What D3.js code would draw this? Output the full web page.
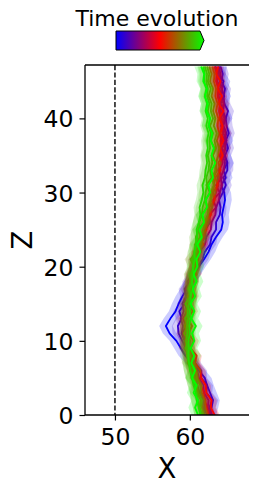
<!DOCTYPE html>
<html>
<head>
<meta charset="utf-8">
<script src="https://cdn.jsdelivr.net/npm/d3@7"></script>
<style>
  body { margin: 0; background: #fff; }
  text { font-family: "DejaVu Sans", sans-serif; fill: #000; }
</style>
</head>
<body>
<script>
// depth levels (Z) shared by every time step
var zValues = [0,1,2,3,4,5,6,7,8,9,10,11,12,13,14,15,16,17,18,19,20,21,22,23,
               24,25,26,27,28,29,30,31,32,33,34,35,36,37,38,39,40,41,42,43,44,45,46,47];

// mean X position per time step (earliest first)
var step0  = [62.6,62.9,63.1,62.7,62.3,62.0,61.2,60.3,59.4,58.8,58.2,57.3,56.8,57.4,58.1,58.5,59.0,59.6,60.1,60.6,61.2,61.9,62.5,62.9,
              63.5,64.2,64.4,64.3,64.5,64.7,64.6,64.2,64.8,64.5,65.0,64.6,64.3,64.9,64.5,64.2,64.8,64.4,64.1,64.6,64.2,64.5,63.9,64.0];
var step1  = [63.0,62.6,63.0,62.2,62.3,61.5,61.5,60.7,60.2,59.5,59.0,58.5,58.4,58.9,58.6,59.3,59.5,59.3,60.0,60.7,61.0,61.7,62.0,62.7,
              62.9,63.5,63.5,64.0,64.1,63.9,64.4,64.8,64.5,65.0,65.0,64.7,65.1,64.8,65.2,64.9,64.8,65.1,64.6,64.5,64.7,64.2,64.4,64.1];
var step2  = [62.8,62.4,62.5,61.9,61.8,61.2,61.0,60.5,60.0,59.4,59.3,58.9,59.1,58.8,59.2,59.0,59.5,59.8,59.7,60.3,60.6,61.0,61.3,62.0,
              62.2,62.8,62.9,63.4,63.5,63.9,64.0,64.3,64.1,64.5,64.7,64.4,64.8,64.6,64.9,64.5,64.7,64.4,64.6,64.2,64.3,64.0,64.1,63.8];
var step3  = [62.3,61.9,62.1,61.5,61.5,60.8,60.9,60.1,60.0,59.3,59.5,59.0,59.5,59.1,59.6,59.4,60.0,59.5,60.3,60.2,60.7,60.6,61.5,61.3,
              62.1,62.1,62.7,62.6,63.5,63.1,64.0,63.5,64.3,63.9,64.4,64.2,64.7,64.3,64.8,64.2,64.6,64.1,64.5,63.8,64.3,63.6,64.0,63.4];
var step4  = [62.0,61.7,61.8,61.3,61.0,60.8,60.3,60.1,59.7,59.5,59.6,59.3,59.5,59.3,59.6,59.9,59.7,60.1,60.0,60.4,60.7,60.8,61.2,61.4,
              61.9,62.0,62.5,62.6,63.0,63.2,63.5,63.8,63.7,64.0,64.2,64.0,64.3,64.1,64.4,64.2,64.3,64.0,64.1,63.8,63.9,63.6,63.7,63.4];
var step5  = [62.5,62.3,62.0,61.9,61.5,61.1,60.9,60.5,60.3,59.9,60.0,59.7,59.9,59.6,59.8,60.0,60.2,60.0,60.4,60.3,60.8,61.1,61.0,61.6,
              61.8,62.2,62.3,62.8,62.9,63.3,63.4,63.7,63.9,63.8,64.1,64.3,64.0,64.2,64.0,64.3,64.1,63.9,64.0,63.7,63.8,63.5,63.6,63.3];
var step6  = [63.3,62.8,62.9,62.2,62.1,61.5,61.4,60.7,60.9,60.1,60.5,59.8,60.3,59.7,60.4,59.9,60.5,60.3,60.1,60.9,60.6,61.1,61.0,61.8,
              61.4,62.2,62.1,62.8,62.6,63.3,63.1,63.7,63.4,64.1,63.8,64.4,64.0,64.5,64.1,64.4,63.9,64.5,63.8,64.3,63.7,64.1,63.5,63.8];
var step7  = [62.4,62.1,62.0,61.6,61.4,60.9,60.8,60.3,60.1,59.9,59.6,59.8,59.5,59.7,59.9,59.7,60.1,60.0,60.4,60.3,60.7,60.6,61.1,61.3,
              61.7,61.8,62.2,62.4,62.6,62.9,63.0,63.3,63.2,63.6,63.5,63.8,63.9,63.6,63.9,63.7,63.8,63.5,63.7,63.4,63.5,63.2,63.3,63.0];
var step8  = [61.9,61.6,61.5,61.1,60.9,60.6,60.3,60.0,59.8,59.5,59.4,59.7,59.3,59.7,59.5,59.9,59.7,60.2,60.0,60.4,60.5,60.8,60.9,61.3,
              61.4,61.8,61.9,62.4,62.4,62.8,62.8,63.2,63.0,63.4,63.4,63.1,63.5,63.3,63.6,63.2,63.4,63.1,63.3,62.9,63.1,62.7,62.9,62.6];
var step9  = [61.7,61.3,61.6,60.8,61.0,60.2,60.5,59.7,60.0,59.4,59.9,59.2,59.8,59.3,60.0,59.4,60.1,59.8,60.1,60.0,60.6,60.1,60.9,60.7,
              61.4,61.1,61.9,61.6,62.3,62.1,62.7,62.2,62.9,62.7,63.0,62.9,63.3,62.8,63.1,62.7,63.1,62.8,62.9,62.5,62.8,62.4,62.6,62.3];
var step10 = [61.5,61.3,61.1,60.9,60.6,60.3,60.1,59.9,59.6,59.7,59.5,59.7,59.6,59.8,59.7,59.9,60.1,60.0,60.3,60.2,60.5,60.4,60.6,60.9,
              60.8,61.2,61.3,61.6,61.7,62.0,62.1,62.3,62.2,62.5,62.6,62.4,62.7,62.6,62.8,62.5,62.7,62.4,62.6,62.3,62.4,62.2,62.3,62.0];
var step11 = [61.4,61.2,60.9,60.8,60.5,60.3,60.0,59.9,59.8,59.9,59.8,60.0,59.9,60.1,60.0,60.2,60.1,60.4,60.3,60.5,60.4,60.7,60.6,60.8,
              61.0,60.9,61.2,61.4,61.3,61.6,61.8,61.7,62.0,62.1,62.3,62.2,62.4,62.3,62.5,62.2,62.4,62.1,62.3,62.0,62.2,61.9,62.0,61.8];
var step12 = [61.1,60.7,61.1,60.5,60.9,60.3,60.7,60.2,60.6,60.1,60.6,60.3,60.8,60.2,60.6,60.1,60.7,60.4,60.9,60.5,61.0,60.9,61.4,61.0,
              61.6,61.3,61.9,61.7,62.3,62.1,62.7,62.5,63.1,62.9,63.4,62.9,63.2,62.8,63.0,62.5,62.7,62.2,62.4,62.0,62.3,61.8,61.9,61.5];

// spread (half width of the shaded band) per time step
var spreadValues = [0.9, 0.8, 0.7, 0.8, 0.7, 0.8, 0.7, 0.8, 0.7, 0.8, 0.9, 0.8, 0.9];

var xTicks = [50, 60];
var zTicks = [0, 10, 20, 30, 40];
var refX = 50;

var steps = [step0, step1, step2, step3, step4, step5, step6, step7, step8, step9, step10, step11, step12];

var W = 259, H = 493;
var margin = { top: 65, right: 10, bottom: 78, left: 85 };
var w = 249 - margin.left, h = 415 - margin.top;

var svg = d3.select('body').append('svg').attr('width', W).attr('height', H);

var x = d3.scaleLinear().domain([46, 67.9]).range([0, w]);
var z = d3.scaleLinear().domain([0, 47.2]).range([h, 0]);

var cmap = d3.piecewise(d3.interpolateRgb, ['#0000ff', '#ff0000', '#00ff00']);
var t = d3.scaleLinear().domain([0, steps.length - 1]).range([0, 1]);

var g = svg.append('g').attr('transform', 'translate(' + margin.left + ',' + margin.top + ')');

g.append('clipPath').attr('id', 'clip')
  .append('rect').attr('width', w).attr('height', h);

var plot = g.append('g').attr('clip-path', 'url(#clip)');

var band = d3.area()
  .y(function(d, i) { return z(zValues[i]); })
  .x0(function(d) { return x(d.v - d.s); })
  .x1(function(d) { return x(d.v + d.s); });

var line = d3.line()
  .y(function(d, i) { return z(zValues[i]); })
  .x(function(d) { return x(d); });

steps.forEach(function(vals, k) {
  var col = cmap(t(k));
  var pts = vals.map(function(v) { return { v: v, s: spreadValues[k] }; });
  plot.append('path')
    .attr('d', band(pts))
    .attr('fill', col)
    .attr('fill-opacity', 0.2)
    .attr('stroke', 'none');
  plot.append('path')
    .attr('d', line(vals))
    .attr('fill', 'none')
    .attr('stroke', col)
    .attr('stroke-width', 1.8)
    .attr('stroke-linejoin', 'round');
});

// reference line
g.append('line')
  .attr('x1', x(refX)).attr('x2', x(refX))
  .attr('y1', 0).attr('y2', h)
  .attr('stroke', '#000')
  .attr('stroke-width', 1.4)
  .attr('stroke-dasharray', '5.2,2.2');

// axes
var xAxis = g.append('g').attr('transform', 'translate(0,' + h + ')')
  .call(d3.axisBottom(x).tickValues(xTicks).tickSize(5.5).tickPadding(7.5).tickFormat(d3.format('d')));
var zAxis = g.append('g')
  .call(d3.axisLeft(z).tickValues(zTicks).tickSize(5.5).tickPadding(6).tickFormat(d3.format('d')));

[xAxis, zAxis].forEach(function(a) {
  a.selectAll('.domain').attr('stroke-width', 1.3);
  a.selectAll('.tick line').attr('stroke-width', 1.2);
  a.selectAll('text').attr('font-size', 23.5).attr('font-family', '"DejaVu Sans", sans-serif');
});
zAxis.selectAll('text').attr('dy', '0.36em');
xAxis.selectAll('.domain').attr('d', 'M0,0H' + w);
zAxis.selectAll('.domain').attr('d', 'M0,0V' + h);

// top spine
g.append('line').attr('x1', 0).attr('x2', w).attr('y1', 0).attr('y2', 0)
  .attr('stroke', '#000').attr('stroke-width', 1.3);

// axis labels
svg.append('text')
  .attr('x', margin.left + w / 2).attr('y', 478)
  .attr('text-anchor', 'middle').attr('font-size', 27.5).text('X');
svg.append('text')
  .attr('transform', 'translate(32,' + (margin.top + h / 2) + ') rotate(-90)')
  .attr('text-anchor', 'middle').attr('font-size', 27.5).text('Z');

// colour bar
var cb = { x: 116, y: 31, w: 84, h: 19, tip: 4 };
var defs = svg.append('defs');
var grad = defs.append('linearGradient').attr('id', 'cbgrad');
d3.range(0, 1.0001, 0.1).forEach(function(s) {
  grad.append('stop').attr('offset', s).attr('stop-color', cmap(s));
});
svg.append('path')
  .attr('d', 'M' + cb.x + ',' + cb.y + 'H' + (cb.x + cb.w) + 'L' + (cb.x + cb.w + cb.tip) + ',' + (cb.y + cb.h / 2) +
             'L' + (cb.x + cb.w) + ',' + (cb.y + cb.h) + 'H' + cb.x + 'Z')
  .attr('fill', 'url(#cbgrad)')
  .attr('stroke', '#000').attr('stroke-width', 1);
svg.append('text')
  .attr('x', 157).attr('y', 26)
  .attr('text-anchor', 'middle').attr('font-size', 22).text('Time evolution');
</script>
</body>
</html>
